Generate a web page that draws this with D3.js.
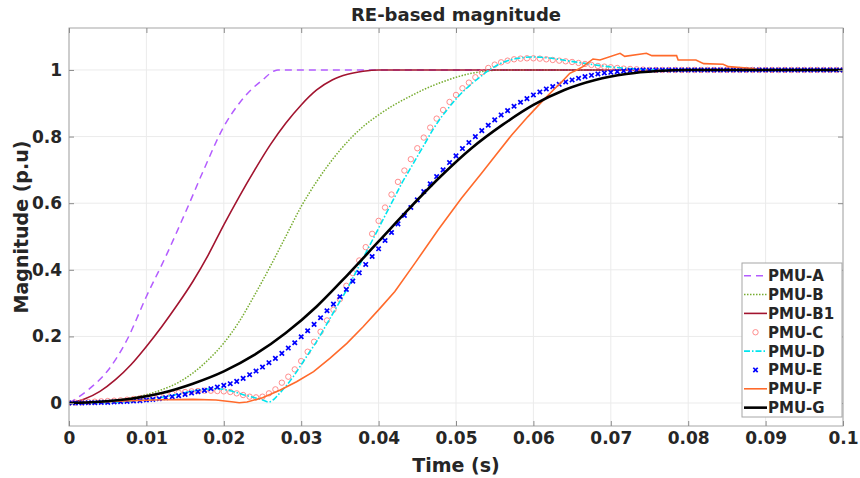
<!DOCTYPE html>
<html>
<head>
<meta charset="utf-8">
<script src="https://cdn.jsdelivr.net/npm/d3@7"></script>
<style>
  body { margin: 0; background: #fff; }
  text { font-family: "DejaVu Sans", sans-serif; font-weight: bold; fill: #262626; }
</style>
</head>
<body>
<svg id="chart" width="860" height="478"></svg>
<script>
// ---- data ----
var seriesNames = ['PMU-A', 'PMU-B', 'PMU-B1', 'PMU-C', 'PMU-D', 'PMU-E', 'PMU-F', 'PMU-G'];
var xTicks = [0, 0.01, 0.02, 0.03, 0.04, 0.05, 0.06, 0.07, 0.08, 0.09, 0.1];
var xTickLabels = ['0', '0.01', '0.02', '0.03', '0.04', '0.05', '0.06', '0.07', '0.08', '0.09', '0.1'];
var yTicks = [0, 0.2, 0.4, 0.6, 0.8, 1];
var yTickLabels = ['0', '0.2', '0.4', '0.6', '0.8', '1'];

// [time, magnitude]
var pmuA = [[0,0],[0.0025,0.04],[0.005,0.097],[0.0075,0.19],[0.01,0.32],[0.0125,0.44],[0.015,0.57],
  [0.0175,0.705],[0.02,0.83],[0.022,0.9],[0.0235,0.94],[0.025,0.97],[0.0265,0.997],[0.027,1],[0.1,1]];
var pmuB = [[0,0],[0.004,0.003],[0.008,0.015],[0.01,0.025],[0.012,0.04],[0.014,0.06],[0.016,0.09],
  [0.018,0.13],[0.02,0.18],[0.022,0.245],[0.024,0.325],[0.026,0.41],[0.028,0.5],[0.03,0.59],
  [0.032,0.665],[0.034,0.73],[0.036,0.785],[0.038,0.83],[0.04,0.865],[0.042,0.895],[0.044,0.92],
  [0.046,0.943],[0.048,0.962],[0.05,0.978],[0.052,0.99],[0.054,0.997],[0.056,1],[0.1,1]];
var pmuB1 = [[0,0],[0.002,0.012],[0.004,0.035],[0.006,0.07],[0.008,0.115],[0.01,0.17],[0.012,0.23],
  [0.014,0.295],[0.016,0.365],[0.018,0.445],[0.02,0.535],[0.022,0.62],[0.024,0.7],[0.026,0.775],
  [0.028,0.84],[0.03,0.895],[0.032,0.94],[0.034,0.97],[0.036,0.987],[0.038,0.996],[0.04,1],[0.1,1]];
var pmuD = [[0,0],[0.004,0.001],[0.008,0.005],[0.01,0.01],[0.012,0.017],[0.014,0.026],[0.016,0.036],
  [0.018,0.042],[0.019,0.043],[0.02,0.041],[0.021,0.036],[0.022,0.029],[0.023,0.022],[0.024,0.016],
  [0.025,0.009],[0.0258,0.003],[0.0265,0.012],[0.027,0.024],[0.028,0.05],[0.029,0.08],[0.03,0.115],
  [0.031,0.15],[0.032,0.185],[0.033,0.225],[0.034,0.265],[0.035,0.305],[0.036,0.345],[0.037,0.39],
  [0.038,0.435],[0.039,0.48],[0.04,0.525],[0.041,0.57],[0.042,0.615],[0.043,0.66],[0.044,0.7],
  [0.045,0.74],[0.046,0.78],[0.047,0.82],[0.048,0.855],[0.049,0.885],[0.05,0.913],[0.051,0.937],
  [0.052,0.958],[0.053,0.977],[0.054,0.995],[0.055,1.01],[0.056,1.022],[0.057,1.03],[0.058,1.035],
  [0.059,1.038],[0.06,1.039],[0.061,1.038],[0.062,1.036],[0.063,1.033],[0.064,1.029],[0.066,1.022],
  [0.068,1.015],[0.07,1.009],[0.072,1.005],[0.074,1.002],[0.076,1],[0.1,1]];
var pmuF = [[0,0],[0.004,0.003],[0.008,0.007],[0.012,0.01],[0.016,0.011],[0.019,0.009],[0.021,0.004],
  [0.022,0.001],[0.023,0.003],[0.025,0.016],[0.0273,0.039],[0.0294,0.064],[0.0316,0.094],[0.0337,0.134],
  [0.0359,0.179],[0.038,0.229],[0.0402,0.285],[0.0421,0.335],[0.0447,0.42],[0.0477,0.52],[0.0507,0.615],
  [0.0533,0.69],[0.055,0.74],[0.0572,0.805],[0.0593,0.86],[0.0611,0.905],[0.0628,0.945],[0.0637,0.965],
  [0.0647,0.99],[0.0656,1],[0.0664,1.01],[0.0677,1.033],[0.0686,1.03],[0.0712,1.05],[0.0718,1.041],
  [0.0746,1.05],[0.0753,1.043],[0.0785,1.043],[0.0787,1.03],[0.081,1.03],[0.082,1.019],[0.0845,1.017],
  [0.0852,1.01],[0.088,1.005],[0.0893,1],[0.1,1]];
var pmuG = [[0,0],[0.004,0.004],[0.008,0.013],[0.012,0.03],[0.016,0.058],[0.02,0.095],[0.024,0.145],
  [0.028,0.21],[0.032,0.29],[0.036,0.385],[0.04,0.485],[0.044,0.585],[0.048,0.68],[0.052,0.765],
  [0.056,0.835],[0.06,0.895],[0.064,0.94],[0.068,0.97],[0.072,0.988],[0.076,0.997],[0.08,1],[0.1,1]];

// marker series, one sample every 1/1200 s starting at 0
var sampleRate = 1200;
var pmuC = [0,0.001,0.002,0.003,0.004,0.005,0.006,0.007,0.008,0.01,0.012,0.014,0.016,0.019,0.022,0.025,
  0.028,0.031,0.033,0.035,0.036,0.037,0.037,0.036,0.035,0.033,0.029,0.024,0.019,0.017,0.019,0.029,
  0.041,0.061,0.079,0.101,0.126,0.154,0.184,0.214,0.248,0.28,0.312,0.352,0.39,0.428,0.468,0.508,
  0.547,0.587,0.626,0.664,0.698,0.732,0.765,0.797,0.827,0.854,0.88,0.904,0.925,0.945,0.962,0.978,
  0.993,1.006,1.016,1.023,1.028,1.032,1.034,1.035,1.035,1.034,1.032,1.03,1.028,1.026,1.024,1.021,
  1.018,1.015,1.012,1.01,1.008,1.006,1.004,1.003,1.002,1.001,1,1,1,1,1,1,1,1,1,1,
  1,1,1,1,1,1,1,1,1,1,1,1,1,1,1,1,1,1,1,1,1];
var pmuE = [0,0,0,0.001,0.001,0.002,0.002,0.003,0.004,0.005,0.006,0.007,0.009,0.011,0.013,0.016,
  0.019,0.022,0.026,0.03,0.034,0.038,0.043,0.048,0.053,0.058,0.065,0.074,0.085,0.096,0.108,0.121,
  0.134,0.149,0.165,0.181,0.199,0.217,0.236,0.256,0.277,0.297,0.319,0.341,0.366,0.391,0.416,0.44,
  0.463,0.488,0.512,0.538,0.563,0.587,0.61,0.635,0.658,0.68,0.7,0.722,0.742,0.764,0.782,0.8,
  0.818,0.834,0.85,0.865,0.878,0.891,0.903,0.914,0.925,0.934,0.943,0.95,0.957,0.964,0.97,0.975,
  0.98,0.984,0.988,0.991,0.993,0.995,0.997,0.998,0.999,1,1,1,1,1,1,1,1,1,1,1,
  1,1,1,1,1,1,1,1,1,1,1,1,1,1,1,1,1,1,1,1,1];

// ---- layout ----
var svg = d3.select('#chart');
var plotLeft = 69, plotRight = 843, plotTop = 28, plotBottom = 426;
var x = d3.scaleLinear().domain([0, 0.1]).range([plotLeft, plotRight]);
var y = d3.scaleLinear().domain([-0.069, 1.126]).range([plotBottom, plotTop]);
var axisColor = '#a6a6a6';

// grid
svg.append('g').selectAll('line').data(xTicks).enter().append('line')
    .attr('x1', d => x(d)).attr('x2', d => x(d)).attr('y1', plotTop).attr('y2', plotBottom)
    .attr('stroke', '#ebebeb').attr('stroke-width', 1);
svg.append('g').selectAll('line').data(yTicks).enter().append('line')
    .attr('x1', plotLeft).attr('x2', plotRight).attr('y1', d => y(d)).attr('y2', d => y(d))
    .attr('stroke', '#ebebeb').attr('stroke-width', 1);

// series
svg.append('clipPath').attr('id', 'plotclip').append('rect')
    .attr('x', plotLeft).attr('y', plotTop).attr('width', plotRight - plotLeft).attr('height', plotBottom - plotTop);
var plot = svg.append('g').attr('clip-path', 'url(#plotclip)');

var smooth = d3.line().x(d => x(d[0])).y(d => y(d[1])).curve(d3.curveMonotoneX);
var straight = d3.line().x(d => x(d[0])).y(d => y(d[1]));

var styles = {
    'PMU-A' : { stroke: '#b35cff', width: 1.5, dash: '7,5' },
    'PMU-B' : { stroke: '#77ac30', width: 1.5, dash: '1.5,1.5' },
    'PMU-B1': { stroke: '#a2142f', width: 1.6, dash: null },
    'PMU-D' : { stroke: '#00e5ee', width: 1.6, dash: '6,2,1.5,2' },
    'PMU-F' : { stroke: '#ff6a2b', width: 1.6, dash: null },
    'PMU-G' : { stroke: '#000000', width: 2.6, dash: null }
};

function drawLine(data, name, gen) {
    var s = styles[name];
    plot.append('path').datum(data)
        .attr('d', gen)
        .attr('fill', 'none')
        .attr('stroke', s.stroke)
        .attr('stroke-width', s.width)
        .attr('stroke-dasharray', s.dash);
}

drawLine(pmuA, 'PMU-A', smooth);
drawLine(pmuB, 'PMU-B', smooth);
drawLine(pmuB1, 'PMU-B1', smooth);

plot.append('g').selectAll('circle').data(pmuC).enter().append('circle')
    .attr('cx', (d, i) => x(i / sampleRate)).attr('cy', d => y(d)).attr('r', 2.7)
    .attr('fill', 'none').attr('stroke', '#ff8080').attr('stroke-width', 0.9);

drawLine(pmuD, 'PMU-D', smooth);

function cross(g, cx, cy, r) {
    g.append('path')
        .attr('d', 'M' + (cx - r) + ',' + (cy - r) + 'L' + (cx + r) + ',' + (cy + r) +
                   'M' + (cx - r) + ',' + (cy + r) + 'L' + (cx + r) + ',' + (cy - r))
        .attr('stroke', '#0000ff').attr('stroke-width', 1.7).attr('fill', 'none');
}
var eg = plot.append('g');
pmuE.forEach(function(v, i) { cross(eg, x(i / sampleRate), y(v), 2.2); });

drawLine(pmuF, 'PMU-F', straight);
drawLine(pmuG, 'PMU-G', smooth);

// axes box
svg.append('rect').attr('x', plotLeft).attr('y', plotTop)
    .attr('width', plotRight - plotLeft).attr('height', plotBottom - plotTop)
    .attr('fill', 'none').attr('stroke', axisColor).attr('stroke-width', 1);

var xAxis = d3.axisBottom(x).tickValues(xTicks).tickFormat((d, i) => xTickLabels[i])
    .tickSizeInner(-5).tickSizeOuter(0).tickPadding(6);
var gx = svg.append('g').attr('transform', 'translate(0,' + plotBottom + ')').call(xAxis);
var yAxis = d3.axisLeft(y).tickValues(yTicks).tickFormat((d, i) => yTickLabels[i])
    .tickSizeInner(-5).tickSizeOuter(0).tickPadding(7);
var gy = svg.append('g').attr('transform', 'translate(' + plotLeft + ',0)').call(yAxis);
var gt = svg.append('g').attr('transform', 'translate(0,' + plotTop + ')')
    .call(d3.axisTop(x).tickValues(xTicks).tickFormat('').tickSizeInner(-5).tickSizeOuter(0));
var gr = svg.append('g').attr('transform', 'translate(' + plotRight + ',0)')
    .call(d3.axisRight(y).tickValues(yTicks).tickFormat('').tickSizeInner(-5).tickSizeOuter(0));

[gx, gy, gt, gr].forEach(function(g) {
    g.select('.domain').remove();
    g.selectAll('line').attr('stroke', '#8c8c8c');
    g.selectAll('text').attr('font-size', 17).attr('font-family', null).attr('fill', '#262626');
});

// titles
svg.append('text').attr('x', (plotLeft + plotRight) / 2).attr('y', 21).attr('text-anchor', 'middle')
    .attr('font-size', 18).text('RE-based magnitude');
svg.append('text').attr('x', (plotLeft + plotRight) / 2).attr('y', 472).attr('text-anchor', 'middle')
    .attr('font-size', 19).text('Time (s)');
svg.append('text').attr('transform', 'translate(28,' + ((plotTop + plotBottom) / 2) + ') rotate(-90)')
    .attr('text-anchor', 'middle').attr('font-size', 19).text('Magnitude (p.u)');

// legend
var lx = 742, ly = 263, lw = 100, lh = 154, rowH = 18.85;
var legend = svg.append('g');
legend.append('rect').attr('x', lx).attr('y', ly).attr('width', lw).attr('height', lh)
    .attr('fill', '#fff').attr('stroke', axisColor).attr('stroke-width', 1);

seriesNames.forEach(function(name, k) {
    var cy = ly + 12.7 + k * rowH;
    if (name == 'PMU-C') {
        legend.append('circle').attr('cx', lx + 13.5).attr('cy', cy).attr('r', 2.7)
            .attr('fill', 'none').attr('stroke', '#ff8080').attr('stroke-width', 0.9);
    }
    else if (name == 'PMU-E') {
        cross(legend, lx + 13.5, cy, 2.2);
    }
    else {
        var s = styles[name];
        legend.append('line').attr('x1', lx + 2).attr('x2', lx + 25).attr('y1', cy).attr('y2', cy)
            .attr('stroke', s.stroke).attr('stroke-width', s.width).attr('stroke-dasharray', s.dash);
    }
    legend.append('text').attr('x', lx + 26).attr('y', cy).attr('dy', '0.36em')
        .attr('font-size', 15).text(name);
});
</script>
</body>
</html>
